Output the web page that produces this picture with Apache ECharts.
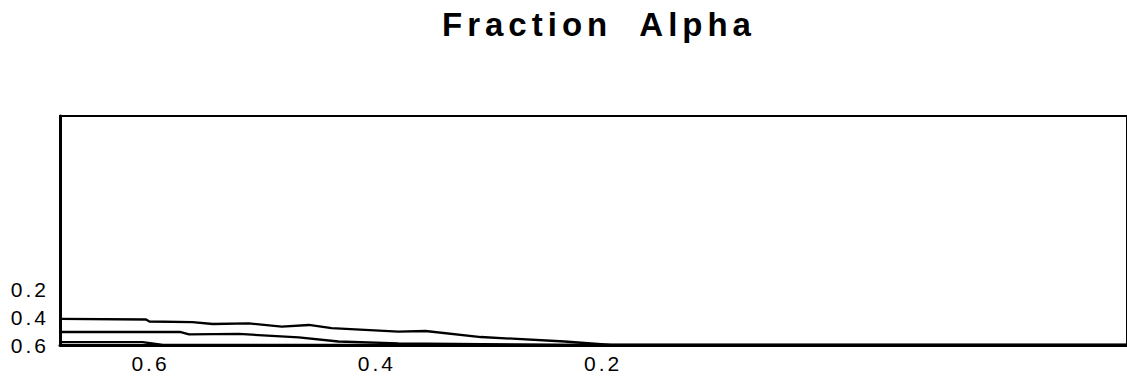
<!DOCTYPE html>
<html>
<head>
<meta charset="utf-8">
<script src="https://cdn.jsdelivr.net/npm/echarts@6/dist/echarts.min.js"></script>
<style>
  html, body { margin: 0; padding: 0; background: #fff; }
  #chart { width: 1127px; height: 381px; }
  /* widely tracked lettering */
  #chart text { letter-spacing: 3px; }
  #chart text.title-text { letter-spacing: 5px; }
</style>
</head>
<body>
<div id="chart"></div>
<script>
// Tick labels
const xTickValues = [0.6, 0.4, 0.2];
const yTickValues = [0.2, 0.4, 0.6];

// Upper curve
const upperX = [0.680, 0.604, 0.601, 0.563, 0.545, 0.513, 0.484, 0.460, 0.440, 0.381, 0.357, 0.308, 0.234, 0.193, -0.263];
const upperY = [0.414, 0.418, 0.432, 0.436, 0.450, 0.446, 0.468, 0.457, 0.479, 0.504, 0.500, 0.543, 0.575, 0.600, 0.600];

// Middle curve
const middleX = [0.680, 0.574, 0.566, 0.522, 0.469, 0.434, 0.381, 0.234, -0.263];
const middleY = [0.507, 0.507, 0.524, 0.521, 0.545, 0.575, 0.589, 0.600, 0.600];

// Lower curve
const lowerX = [0.680, 0.607, 0.589, -0.263];
const lowerY = [0.579, 0.579, 0.600, 0.600];

const zip = (xs, ys) => xs.map((x, i) => [x, ys[i]]);

const curves = [
  { name: 'upper', data: zip(upperX, upperY) },
  { name: 'middle', data: zip(middleX, middleY) },
  { name: 'lower', data: zip(lowerX, lowerY) }
];

const TITLE = 'Fraction  Alpha';
const FONT = '"Liberation Sans", Arial, Helvetica, sans-serif';
const fmt = v => Number(v).toFixed(1);

const el = document.getElementById('chart');
const chart = echarts.init(el, null, { renderer: 'svg' });

// give the title its own tracking once the SVG is in place
chart.on('finished', () => {
  el.querySelectorAll('text').forEach(t => {
    if (t.textContent.indexOf('Fraction') >= 0) t.classList.add('title-text');
  });
});

chart.setOption({
  backgroundColor: '#fff',
  animation: false,
  graphic: [{
    type: 'text',
    x: 599,
    y: 24,
    style: {
      text: TITLE,
      font: 'bold 33px ' + FONT,
      fill: '#000',
      align: 'center',
      verticalAlign: 'middle'
    }
  }],
  grid: {
    left: 60,
    top: 116,
    right: -3,
    bottom: 36,
    show: true,
    borderColor: '#000',
    borderWidth: 2,
    backgroundColor: 'transparent'
  },
  xAxis: {
    type: 'value',
    inverse: true,
    min: -0.263,
    max: 0.680,
    axisLine: { show: true, onZero: false, lineStyle: { color: '#000', width: 3 } },
    axisTick: { show: false },
    splitLine: { show: false },
    axisLabel: {
      customValues: xTickValues,
      formatter: fmt,
      color: '#000',
      fontFamily: FONT,
      fontSize: 21,
      margin: 8
    }
  },
  yAxis: {
    type: 'value',
    inverse: true,
    min: -1.036,
    max: 0.6,
    axisLine: { show: true, onZero: false, lineStyle: { color: '#000', width: 3 } },
    axisTick: { show: false },
    splitLine: { show: false },
    axisLabel: {
      customValues: yTickValues,
      formatter: fmt,
      color: '#000',
      fontFamily: FONT,
      fontSize: 21,
      margin: 11,
      padding: [26, 0, 0, 0]
    }
  },
  series: curves.map(c => ({
    type: 'line',
    name: c.name,
    data: c.data,
    symbol: 'none',
    clip: true,
    lineStyle: { color: '#000', width: 2.3 }
  }))
});
</script>
</body>
</html>
